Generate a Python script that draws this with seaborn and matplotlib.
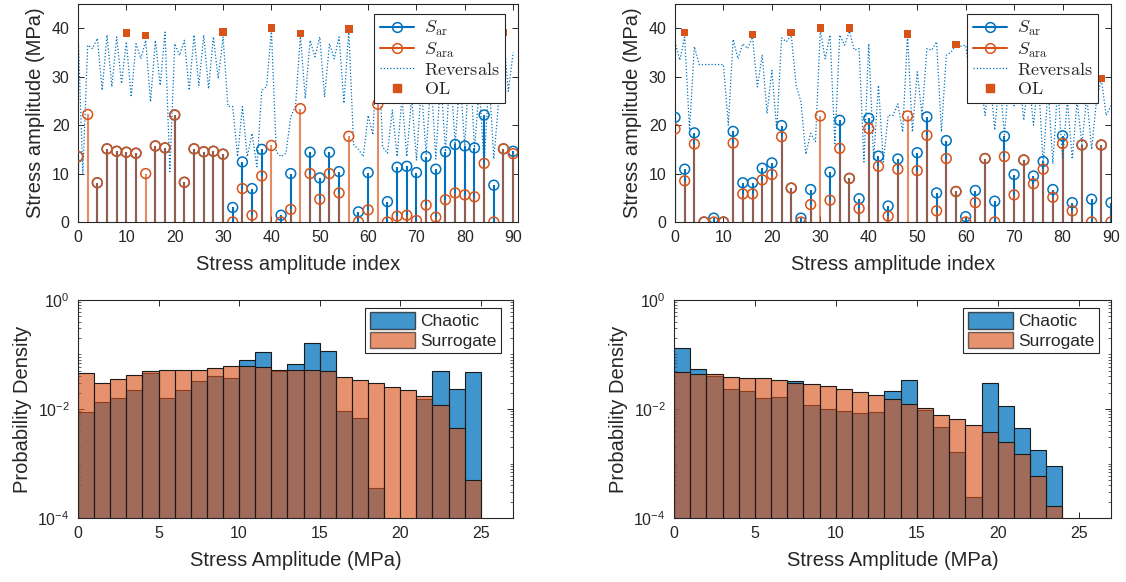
import numpy as np
import pandas as pd
import matplotlib
matplotlib.use("Agg")
import matplotlib.pyplot as plt
from matplotlib.lines import Line2D
from matplotlib.patches import Patch
from matplotlib.legend_handler import HandlerLine2D
from matplotlib.ticker import FixedLocator, LogLocator, NullFormatter, FuncFormatter
import seaborn as sns

BLUE = "#0072BD"
ORANGE = "#D95319"
nan = np.nan

# ---- top panels: stem data (every 2nd index) ----
stem_idx = np.arange(0, 91, 2)

sar_left = [13.5, nan, 8.1, 15.1, 14.6, 14.4, 14.2, nan, 15.7, 15.3,
            22.1, 8.2, 15.1, 14.5, 14.6, 14.0, 3.0, 12.4, 6.9, 15.0,
            nan, 1.4, 10.0, nan, 14.4, 9.1, 14.4, 10.4, nan, 2.1,
            10.2, nan, 4.2, 11.3, 11.5, 10.2, 13.5, 10.9, 14.5, 16.0,
            15.7, 15.3, 22.1, 7.6, 15.1, 14.6]
sara_left = [13.5, 22.2, 8.1, 15.1, 14.6, 14.4, 14.2, 10.0, 15.7, 15.3,
             22.1, 8.2, 15.1, 14.5, 14.6, 14.0, 0.0, 6.9, 1.4, 9.5,
             15.8, 0.0, 2.6, 23.4, 10.0, 4.7, 10.0, 6.0, 17.7, 0.0,
             2.5, 24.3, 0.0, 1.2, 1.4, 0.3, 3.5, 1.0, 4.6, 6.0,
             5.6, 5.2, 12.1, 0.0, 15.1, 14.1]

sar_right = [21.6, 10.9, 18.4, 0.0, 0.8, 0.0, 18.7, 8.1, 8.1, 11.1,
             12.2, 19.9, 7.0, 0.8, 6.7, nan, 10.3, 21.0, 9.0, 4.8,
             21.4, 13.6, 3.3, 13.0, nan, 14.3, 21.7, 6.0, 16.8, 6.3,
             1.1, 6.5, 13.1, 4.3, 17.7, 9.8, 12.8, 9.5, 12.5, 6.7,
             17.8, 4.0, 15.9, 4.7, 15.9, 4.0]
sara_right = [19.2, 8.5, 16.1, 0.0, 0.0, 0.0, 16.3, 5.8, 5.8, 8.7,
              9.8, 17.6, 7.0, 0.0, 3.6, 21.9, 4.5, 15.2, 9.0, 2.8,
              19.3, 11.5, 1.2, 10.9, 21.9, 10.6, 17.9, 2.3, 13.1, 6.3,
              0.0, 4.0, 13.1, 0.0, 13.5, 5.6, 12.8, 7.9, 10.9, 5.1,
              16.2, 2.3, 15.9, 0.0, 15.9, 0.0]

# ---- reversals (every index) ----
rev_idx = np.arange(0, 91)
rev_left = [39.5, 10.0, 36.5, 35.8, 37.9, 27.2, 38.6, 27.9, 38.2, 28.6,
            37.2, 25.8, 36.8, 33.7, 37.5, 24.8, 37.5, 28.2, 39.2, 10.4,
            36.8, 34.4, 37.5, 27.2, 38.6, 28.2, 38.6, 27.5, 38.2, 29.6,
            38.2, 23.9, 23.8, 13.5, 23.8, 13.5, 18.3, 11.4, 27.2, 27.9,
            39.6, 14.5, 13.5, 14.2, 21.7, 24.0, 38.6, 25.5, 37.5, 34.1,
            38.2, 25.8, 36.8, 33.7, 38.2, 24.5, 39.5, 16.0, 15.0, 13.5,
            22.0, 18.0, 39.8, 15.5, 14.2, 23.1, 13.5, 25.8, 13.5, 25.8,
            12.8, 28.0, 14.0, 30.0, 13.0, 30.0, 14.5, 32.0, 16.0, 30.0,
            15.5, 35.0, 15.0, 28.0, 11.7, 30.0, 13.0, 25.0, 38.8, 27.0,
            35.0]
rev_right = [37.2, 33.4, 38.2, 19.0, 36.2, 32.5, 32.5, 32.5, 32.5, 32.5,
             32.5, 20.0, 37.7, 33.7, 36.8, 35.8, 38.2, 27.9, 34.4, 22.4,
             31.3, 19.0, 38.0, 37.2, 38.6, 28.2, 24.8, 14.0, 18.3, 16.6,
             39.6, 33.7, 38.6, 16.2, 38.6, 36.5, 39.4, 35.5, 35.8, 12.4,
             36.8, 13.0, 28.2, 12.4, 22.0, 22.0, 24.4, 18.6, 38.6, 18.6,
             31.0, 22.0, 35.8, 35.5, 37.2, 18.6, 34.4, 35.1, 36.6, 36.3,
             36.5, 29.3, 31.7, 30.0, 22.0, 30.0, 19.0, 30.0, 18.0, 30.0,
             24.0, 30.0, 21.0, 30.0, 20.0, 30.0, 11.5, 28.0, 12.0, 28.0,
             13.0, 25.0, 13.0, 25.0, 16.0, 26.0, 15.0, 25.0, 29.6, 22.0,
             24.0]

# ---- overload points ----
ol_idx_left = [10, 14, 30, 40, 46, 56, 62, 88]
ol_left = [39.0, 38.5, 39.2, 40.1, 38.9, 39.9, 40.1, 39.1]
ol_idx_right = [2, 16, 24, 30, 36, 48, 58, 88]
ol_right = [39.1, 38.7, 39.1, 40.1, 40.1, 38.8, 36.6, 29.6]

# ---- bottom panels: probability density per 1 MPa bin ----
chaotic_left = [0.0089, 0.0133, 0.016, 0.0224, 0.046, 0.016, 0.022, 0.033,
                0.040, 0.037, 0.078, 0.11, 0.049, 0.066, 0.16, 0.117,
                0.0091, 0.0068, 0.00035, 0.0, 0.0, 0.0155, 0.05, 0.023, 0.047]
surrogate_left = [0.045, 0.0296, 0.035, 0.0416, 0.050, 0.051, 0.051, 0.053,
                  0.056, 0.062, 0.062, 0.058, 0.053, 0.053, 0.053, 0.05,
                  0.039, 0.034, 0.0296, 0.025, 0.022, 0.017, 0.012, 0.0045,
                  0.00049]
chaotic_right = [0.13, 0.054, 0.041, 0.0236, 0.021, 0.016, 0.0166, 0.032,
                 0.0117, 0.010, 0.0093, 0.0083, 0.0088, 0.0214, 0.0336,
                 0.0096, 0.0047, 0.0016, 0.000246, 0.0296, 0.0114, 0.0044,
                 0.0018, 0.00089]
surrogate_right = [0.047, 0.043, 0.043, 0.039, 0.0376, 0.037, 0.034, 0.030,
                   0.029, 0.026, 0.0236, 0.0205, 0.018, 0.0155, 0.0125,
                   0.0106, 0.0078, 0.0065, 0.0051, 0.0038, 0.00246, 0.0015,
                   0.0006, 0.000164]


class StemHandler(HandlerLine2D):
    # legend line with the marker at its right end, like a matlab stem
    def create_artists(self, legend, orig_handle, xdescent, ydescent,
                       width, height, fontsize, trans):
        arts = super().create_artists(legend, orig_handle, xdescent, ydescent,
                                      width, height, fontsize, trans)
        if len(arts) > 1:
            arts[1].set_xdata([width - xdescent - 3])
        return arts


def style_axes(ax):
    ax.tick_params(direction="in", top=True, right=True, length=4,
                   width=0.7, labelsize=11.5, pad=6, colors="#262626",
                   which="major")
    ax.tick_params(direction="in", top=True, right=True, length=2,
                   width=0.5, which="minor")
    for sp in ax.spines.values():
        sp.set_visible(True)
        sp.set_linewidth(0.8)
        sp.set_color("#262626")


def plot_stems(ax, sar, sara, rev, ol_idx, ol, xmax):
    ax.vlines(stem_idx, 0, sar, color=BLUE, lw=1.5)
    sns.scatterplot(x=stem_idx, y=sar, marker="o", s=50, facecolor="none",
                    edgecolor=BLUE, linewidth=1.1, ax=ax, zorder=3)
    ax.vlines(stem_idx, 0, sara, color=ORANGE, lw=1.5, alpha=0.68)
    sns.scatterplot(x=stem_idx, y=sara, marker="o", s=50, facecolor="none",
                    edgecolor=ORANGE, linewidth=1.1, ax=ax, zorder=3)
    sns.lineplot(x=rev_idx, y=rev, color=BLUE, lw=0.9, dashes=(1, 1.6),
                 ax=ax)
    sns.scatterplot(x=ol_idx, y=ol, marker="s", s=30, color=ORANGE,
                    edgecolor="none", ax=ax, zorder=4)
    ax.set_xlim(0, xmax)
    ax.set_ylim(0, 45)
    ax.set_xticks(np.arange(0, 91, 10))
    ax.set_yticks([0, 10, 20, 30, 40])
    ax.set_xlabel("Stress amplitude index", fontsize=14.5, labelpad=7)
    ax.set_ylabel("Stress amplitude (MPa)", fontsize=14.5, labelpad=5)
    style_axes(ax)

    handles = [
        Line2D([], [], color=BLUE, lw=1.5, marker="o", ms=7, mfc="none", mew=1.1),
        Line2D([], [], color=ORANGE, lw=1.5, marker="o", ms=7, mfc="none", mew=1.1),
        Line2D([], [], color=BLUE, lw=0.9, dashes=(1, 1.6)),
        Line2D([], [], color=ORANGE, lw=0, marker="s", ms=5.5),
    ]
    labels = [r"$S_{\mathrm{ar}}$", r"$S_{\mathrm{ara}}$",
              r"$\mathrm{Reversals}$", r"$\mathrm{OL}$"]
    leg = ax.legend(handles, labels, loc="upper right",
                    bbox_to_anchor=(0.97, 0.955), borderaxespad=0,
                    fontsize=13, handlelength=1.9, handletextpad=0.55,
                    labelspacing=0.12, borderpad=0.3, fancybox=False,
                    framealpha=1, edgecolor="#262626",
                    handler_map={handles[0]: StemHandler(numpoints=1),
                                 handles[1]: StemHandler(numpoints=1)})
    leg.get_frame().set_linewidth(0.8)
    for t in leg.get_texts():
        t.set_math_fontfamily("cm")


def plot_hist(ax, chaotic, surrogate):
    for vals, col, a in [(chaotic, BLUE, 0.75), (surrogate, ORANGE, 0.63)]:
        edges = list(range(len(vals) + 1))
        df = pd.DataFrame({"amp": np.arange(len(vals)) + 0.5, "dens": vals})
        sns.histplot(data=df, x="amp", weights="dens", bins=edges,
                     color=col, alpha=a, edgecolor="#1a1a1a",
                     linewidth=0.8, ax=ax)
    ax.set_yscale("log")
    ax.set_ylim(1e-4, 1)
    ax.set_xlim(0, 27)
    ax.set_xticks([0, 5, 10, 15, 20, 25])
    ax.yaxis.set_major_locator(FixedLocator([1e-4, 1e-2, 1]))
    ax.yaxis.set_major_formatter(
        FuncFormatter(lambda v, p: r"$\mathregular{10^{%d}}$" % round(np.log10(v))))
    ax.yaxis.set_minor_locator(LogLocator(base=10, subs=np.arange(1, 10), numticks=20))
    ax.yaxis.set_minor_formatter(NullFormatter())
    ax.set_xlabel("Stress Amplitude (MPa)", fontsize=14.5, labelpad=7)
    ax.set_ylabel("Probability Density", fontsize=14.5, labelpad=4)
    style_axes(ax)

    handles = [Patch(facecolor=BLUE, alpha=0.75, edgecolor="#1a1a1a"),
               Patch(facecolor=ORANGE, alpha=0.63, edgecolor="#1a1a1a")]
    leg = ax.legend(handles, ["Chaotic", "Surrogate"], loc="upper right",
                    bbox_to_anchor=(0.972, 0.965), borderaxespad=0,
                    fontsize=12.5, handlelength=2.6, handleheight=1.1,
                    handletextpad=0.3, labelspacing=0.15, borderpad=0.25,
                    fancybox=False, framealpha=1, edgecolor="#262626")
    leg.get_frame().set_linewidth(0.8)


def main():
    sns.set_theme(style="ticks")
    plt.rcParams["font.family"] = ["Liberation Sans", "DejaVu Sans"]

    fig = plt.figure(figsize=(11.26, 5.82), dpi=100)
    W, H = 1126, 582
    ax_tl = fig.add_axes([78 / W, 1 - 222 / H, 440 / W, 218 / H])
    ax_tr = fig.add_axes([675 / W, 1 - 222 / H, 436 / W, 218 / H])
    ax_bl = fig.add_axes([78 / W, 1 - 518 / H, 435 / W, 218 / H])
    ax_br = fig.add_axes([674 / W, 1 - 518 / H, 437 / W, 218 / H])

    plot_stems(ax_tl, sar_left, sara_left, rev_left, ol_idx_left, ol_left, 91)
    plot_stems(ax_tr, sar_right, sara_right, rev_right, ol_idx_right, ol_right, 90)
    plot_hist(ax_bl, chaotic_left, surrogate_left)
    plot_hist(ax_br, chaotic_right, surrogate_right)

    fig.savefig("out.png", dpi=100)


if __name__ == "__main__":
    main()
